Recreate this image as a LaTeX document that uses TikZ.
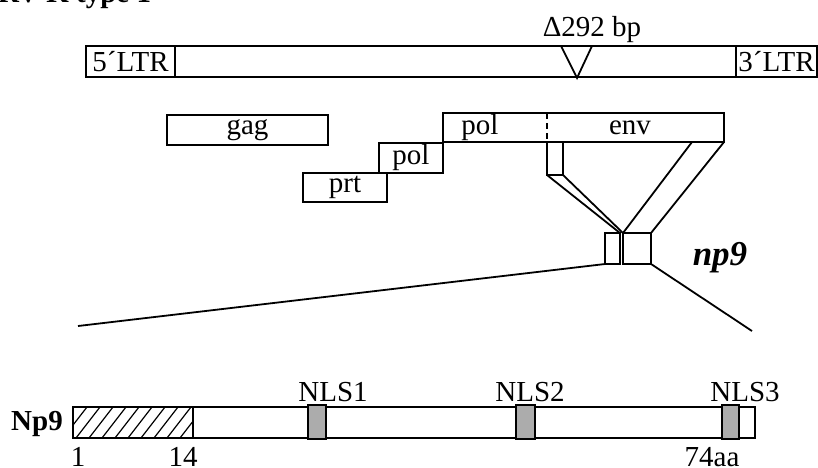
\documentclass[tikz,border=0pt]{standalone}
\usepackage{fontspec}
\setmainfont{Liberation Serif}
\begin{document}
\begin{tikzpicture}[x=0.5pt, y=-0.5pt, line width=0.9pt,
    genebox/.style={draw, inner sep=0pt, outer sep=0pt, font=\fontsize{14.5}{16}\selectfont},
    lbl/.style={inner sep=0pt, font=\fontsize{14.5}{16}\selectfont},
    nls/.style={draw, fill=gray!65, inner sep=0pt, outer sep=0pt}]
    \useasboundingbox (0,0) rectangle (818,467);
    \clip (0,0) rectangle (818,467);
    \node[lbl, anchor=base east, font=\fontsize{14.5}{16}\selectfont\bfseries] (title) at (152,2) {HERV-K type 1};
    % provirus
    \node[genebox, minimum width=44.5pt, minimum height=15.5pt] (ltr5) at (130.5,61.5) {5´LTR};
    \node[genebox, minimum width=40.5pt, minimum height=15.5pt] (ltr3) at (776.5,61.5) {3´LTR};
    \draw (ltr5.north east) rectangle (ltr3.south west);
    \draw (561,46) -- (577,78) -- (592,46);
    \node[lbl] (del) at (592,30) {Δ292 bp};
    % genes
    \node[genebox, minimum width=80.5pt, minimum height=15pt] (gag) at (247.5,130) {gag};
    \node[genebox, minimum width=140.5pt, minimum height=14.5pt] (polenv) at (583.5,127.5) {};
    \node[genebox, minimum width=32pt, minimum height=15pt, fill=white] (pol) at (411,158) {pol};
    \node[genebox, minimum width=42pt, minimum height=14.5pt, fill=white] (prt) at (345,187.5) {prt};
    \draw[line width=0.6pt, densely dashed] (547,113) -- (547,142);
    \node[lbl] (poltxt) at (480,128) {pol};
    \node[lbl] (envtxt) at (630,128) {env};
    \node[genebox, minimum width=8pt, minimum height=16.5pt] (envsub) at (555,158.5) {};
    % np9 exons
    \node[genebox, minimum width=7.5pt, minimum height=15.5pt] (exa) at (612.5,248.5) {};
    \node[genebox, minimum width=14pt, minimum height=15.5pt] (exb) at (637,248.5) {};
    \node[inner sep=0pt, font=\fontsize{17.5}{19}\selectfont\bfseries\itshape] (np9) at (720,258) {np9};
    \coordinate (envcut) at (692,142);
    \draw (envsub.south west) -- (exa.north east);
    \draw (envsub.south east) -- (exb.north west);
    \draw (envcut) -- (exb.north west);
    \draw (polenv.south east) -- (exb.north east);
    \coordinate (zoomL) at (78,326);
    \coordinate (zoomR) at (752,331);
    \draw (exa.south west) -- (zoomL);
    \draw (exb.south east) -- (zoomR);
    % protein
    \draw (73,407) rectangle (755,438);
    \begin{scope}
        \clip (73,407) rectangle (193,438);
        \foreach \i in {50,63,...,200}
            \draw[line width=0.6pt] (\i,438) -- ++(24,-31);
    \end{scope}
    \draw (73,407) rectangle (193,438);
    \node[nls, minimum width=9pt, minimum height=17pt] (nls1) at (317,422) {};
    \node[nls, minimum width=9.5pt, minimum height=17pt] (nls2) at (525.5,422) {};
    \node[nls, minimum width=8.5pt, minimum height=17pt] (nls3) at (730.5,422) {};
    \node[lbl] (nls1txt) at (333,392) {NLS1};
    \node[lbl] (nls2txt) at (530,392) {NLS2};
    \node[lbl] (nls3txt) at (745,392) {NLS3};
    \node[lbl, font=\fontsize{14.5}{16}\selectfont\bfseries] (prot) at (37,424) {Np9};
    \node[lbl] (aa1) at (78,457) {1};
    \node[lbl] (aa14) at (183,457) {14};
    \node[lbl] (aa74) at (712,457) {74aa};
\end{tikzpicture}
\end{document}
